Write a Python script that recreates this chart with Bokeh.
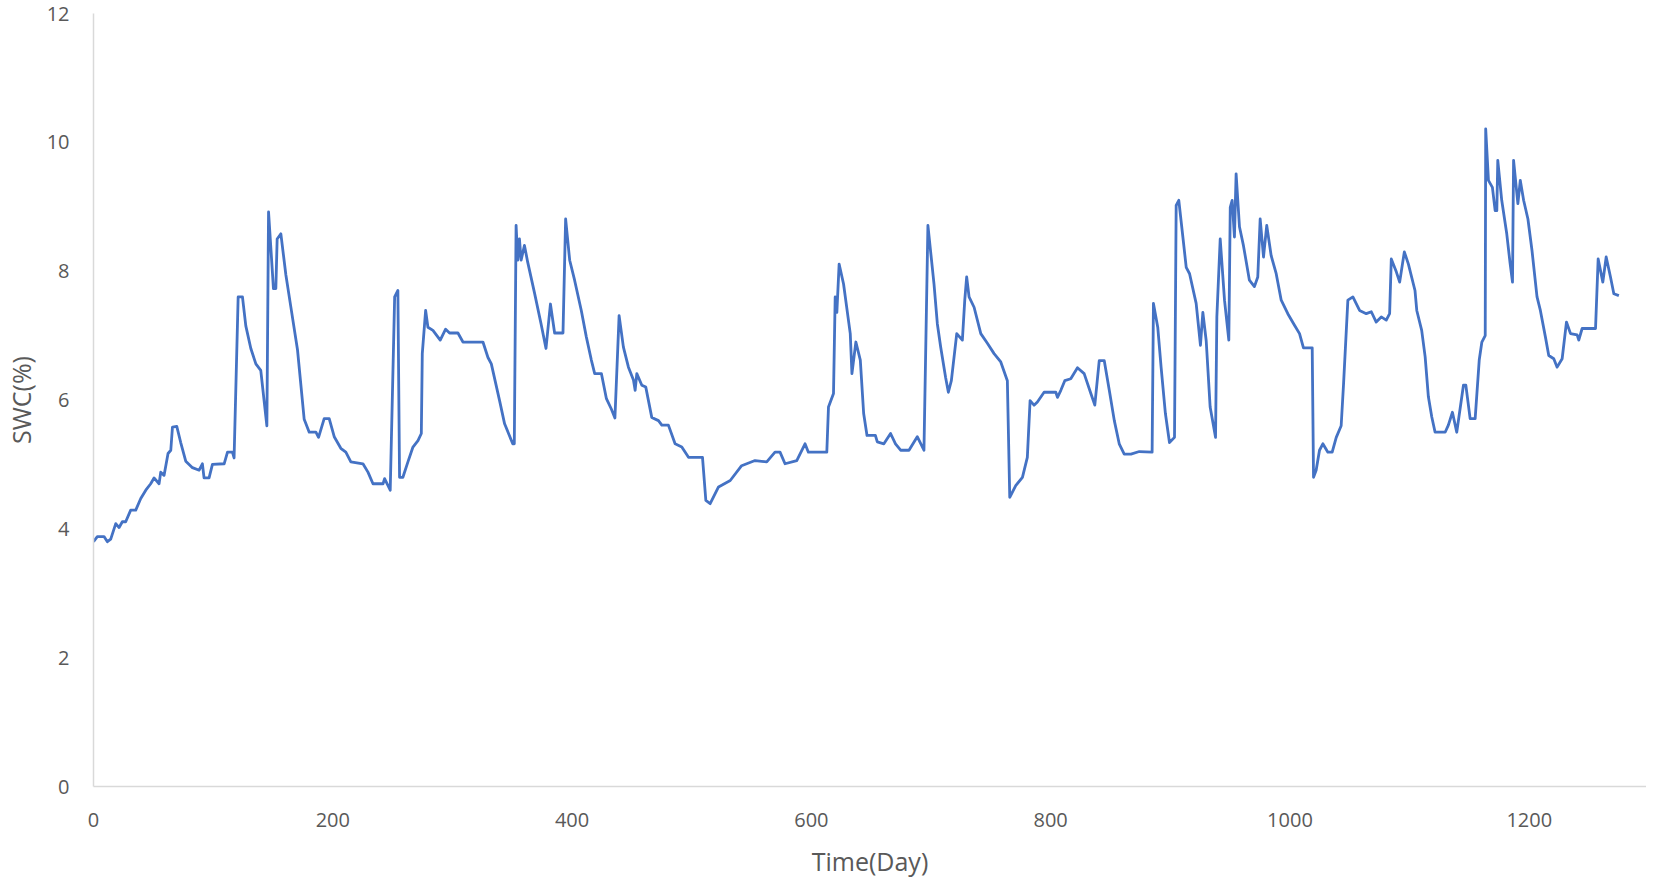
from bokeh.plotting import figure
from bokeh.models import Range1d, FixedTicker
from bokeh.embed import file_html
from bokeh.resources import INLINE

# Soil water content (day, SWC %)
days = [0, 3.2, 8.8, 11.6, 14.4, 18.6, 21.4, 24.1, 26.9, 31.1, 35.3, 39.5, 43.7, 47.8, 50.6, 54.8, 56.2, 59,
        62.3, 64.6, 66, 69.6, 72.9, 77.1, 82.7, 88.3, 91, 92.4, 96.6, 99.4, 109.2, 112, 116.1, 117.5,
        120.9, 124.5, 127.3, 131.5, 135.7, 139.8, 144.9, 146.3, 150.4, 152.4, 153.5, 156.6, 160.8,
        164.9, 170.5, 176.1, 180.3, 185.9, 188.1, 192.8, 197, 201.2, 206.7, 210.9, 215.1, 225.2,
        229.4, 233.6, 242, 243.3, 248, 251.7, 254.4, 255.8, 258.6, 262.8, 267, 271.2, 274, 274.8,
        277.6, 279.5, 283.7, 289.8, 294.3, 297.6, 304.6, 308.8, 325.5, 329.7, 332.5, 339.4, 343.6,
        350.4, 351.7, 353.2, 354.6, 356, 357.4, 360.2, 362.9, 368.5, 374.1, 378.2, 381.9, 385.4,
        392.4, 394.6, 398, 402.1, 407.7, 411.9, 416.1, 418.9, 424.5, 428.7, 432.8, 435.8, 439.3,
        442.9, 447.1, 451.3, 452.7, 454.1, 458.3, 461.6, 466.6, 472.2, 475, 480.5, 486.1, 491.7,
        497.3, 509, 511.8, 515.4, 522.4, 532.2, 541.7, 552.9, 562.7, 569.6, 573.8, 578, 587.8,
        594.7, 597.5, 612.9, 614.3, 618.5, 619.9, 621.3, 623.2, 626.9, 632.5, 633.9, 637.2, 640.9,
        643.7, 646.5, 653.5, 655.1, 660.6, 666.2, 670.3, 674.6, 681.6, 688.5, 694.1, 697.4, 702.5,
        705.3, 708.1, 712.2, 714.5, 717, 721.5, 726.2, 728.2, 729.8, 731.8, 736, 741.6, 747.1,
        752.7, 758.3, 763.8, 765.8, 770.8, 776.4, 780.5, 782.8, 786.1, 788.9, 794.5, 804.3, 805.7,
        808.5, 811.8, 816.8, 822.4, 828, 833.6, 836.9, 840.6, 844.8, 849, 853.2, 857.3, 861.5,
        867.1, 874.1, 884.8, 885.9, 889.5, 892.3, 895.9, 899.3, 903.5, 904.9, 907.1, 910.5, 913.3,
        916.1, 921.6, 925.2, 927.2, 930, 933.3, 937.8, 938.9, 941.7, 945.3, 948.9, 950.1, 951.7,
        953.6, 955, 957.8, 961.1, 966.1, 970.3, 973.1, 975.1, 977.9, 980.6, 984.3, 988.5, 992.7,
        998.2, 1003.8, 1008, 1011.3, 1018.6, 1019.7, 1021.9, 1024.7, 1027.5, 1031.7, 1035.3,
        1038.7, 1042.8, 1044.8, 1048.4, 1052.6, 1058.2, 1063.8, 1068, 1072.1, 1076.3, 1080.5,
        1083.3, 1084.7, 1088.9, 1091.7, 1095.6, 1099, 1104.5, 1106, 1110.1, 1113, 1115.7, 1118.5,
        1121.3, 1129.7, 1132.4, 1135.8, 1139.4, 1145, 1147, 1150.6, 1154.8, 1158.2, 1160.4, 1163.2,
        1163.6, 1165.9, 1169.2, 1171.5, 1172.9, 1173.7, 1177, 1181.2, 1184, 1186, 1186.9, 1190.5,
        1192.5, 1195.3, 1198.9, 1202.3, 1206.5, 1209.3, 1213.5, 1216.3, 1220.5, 1223.3, 1227.5,
        1231.1, 1234.5, 1240, 1241.4, 1244.2, 1255.4, 1257.6, 1261.5, 1264.3, 1267.9, 1270.7, 1274.9]

swc = [3.80, 3.88, 3.88, 3.80, 3.84, 4.08, 4.02, 4.11, 4.11, 4.29, 4.29, 4.47, 4.60, 4.70, 4.79, 4.70, 4.88, 4.83,
       5.17, 5.22, 5.58, 5.59, 5.34, 5.05, 4.95, 4.91, 5.01, 4.79, 4.79, 5.0, 5.01, 5.19, 5.19, 5.10,
       7.60, 7.60, 7.15, 6.80, 6.56, 6.46, 5.60, 8.92, 7.73, 7.73, 8.50, 8.58, 7.94,
       7.45, 6.78, 5.70, 5.50, 5.50, 5.42, 5.71, 5.71, 5.43, 5.25, 5.19, 5.04, 5.01,
       4.88, 4.70, 4.70, 4.78, 4.60, 7.60, 7.70, 4.80, 4.80, 5.04, 5.27, 5.37, 5.48, 6.72,
       7.39, 7.13, 7.08, 6.93, 7.10, 7.04, 7.04, 6.90, 6.90, 6.66, 6.56, 5.99, 5.63,
       5.32, 5.32, 8.71, 8.17, 8.50, 8.17, 8.40, 8.14, 7.67, 7.18, 6.80, 7.49, 7.04,
       7.04, 8.81, 8.17, 7.86, 7.39, 6.98, 6.62, 6.41, 6.41, 6.02, 5.86, 5.72, 7.31,
       6.82, 6.51, 6.31, 6.15, 6.41, 6.23, 6.20, 5.73, 5.68, 5.61, 5.61, 5.32, 5.27,
       5.11, 5.11, 4.44, 4.39, 4.65, 4.75, 4.98, 5.06, 5.04, 5.19, 5.19, 5.01, 5.06,
       5.32, 5.19, 5.19, 5.89, 6.10, 7.60, 7.36, 8.11, 7.80, 7.03, 6.41, 6.90, 6.62,
       5.79, 5.45, 5.45, 5.35, 5.32, 5.48, 5.32, 5.22, 5.22, 5.43, 5.22, 8.71, 7.80,
       7.18, 6.82, 6.35, 6.12, 6.30, 7.03, 6.93, 7.55, 7.91, 7.60, 7.44, 7.03, 6.88,
       6.72, 6.59, 6.30, 4.49, 4.67, 4.80, 5.11, 5.99, 5.92, 5.97, 6.12, 6.12, 6.04,
       6.15, 6.30, 6.33, 6.50, 6.41, 6.10, 5.92, 6.61, 6.61, 6.15, 5.68, 5.32, 5.16,
       5.16, 5.20, 5.19, 7.50, 7.13, 6.51, 5.79, 5.34, 5.42, 9.02, 9.10, 8.53, 8.06,
       7.96, 7.50, 6.85, 7.36, 6.92, 5.89, 5.42, 7.29, 8.50, 7.55, 6.93, 8.99, 9.10,
       8.53, 9.51, 8.69, 8.40, 7.86, 7.76, 7.91, 8.81, 8.22, 8.71, 8.24, 7.96, 7.55,
       7.34, 7.16, 7.03, 6.81, 6.81, 4.80, 4.91, 5.22, 5.32, 5.19, 5.19,
       5.42, 5.60, 6.25, 7.55, 7.60, 7.39, 7.34, 7.37, 7.21, 7.29, 7.24,
       7.34, 8.19, 7.99, 7.83, 8.30, 8.11, 7.70, 7.39, 7.08, 6.67, 6.05, 5.74,
       5.50, 5.50, 5.61, 5.81, 5.50, 6.23, 6.23, 5.71, 5.71, 6.62, 6.90, 7.00,
       10.21, 9.41, 9.30, 8.94, 8.94, 9.72, 9.10, 8.58, 8.12, 7.83, 9.72, 9.05,
       9.41, 9.10, 8.81, 8.32, 7.60, 7.39, 6.98, 6.69, 6.64, 6.51, 6.64,
       7.21, 7.03, 7.01, 6.93, 7.11, 7.11, 8.19, 7.83, 8.22, 7.91, 7.65, 7.62]

x_ticks = [0, 200, 400, 600, 800, 1000, 1200]
y_ticks = [0, 2, 4, 6, 8, 10, 12]

GRAY = "#595959"
FONT = "Open Sans"

p = figure(width=1646, height=880, output_backend="svg", toolbar_location=None,
           x_range=Range1d(0, 1298), y_range=Range1d(0, 12),
           min_border_left=93, min_border_right=0, min_border_top=13, min_border_bottom=94)

p.line(days, swc, line_color="#4472C4", line_width=2.8, line_join="round")

p.grid.visible = False
p.outline_line_color = None

for ax in (p.xaxis[0], p.yaxis[0]):
    ax.axis_line_color = "#D9D9D9"
    ax.axis_line_width = 1.5
    ax.major_tick_line_color = None
    ax.minor_tick_line_color = None
    ax.major_tick_out = 0
    ax.major_tick_in = 0
    ax.major_label_text_color = GRAY
    ax.major_label_text_font = FONT
    ax.major_label_text_font_size = "20px"
    ax.major_label_text_line_height = 0.75
    ax.axis_label_text_color = GRAY
    ax.axis_label_text_font = FONT
    ax.axis_label_text_font_size = "25px"
    ax.axis_label_text_font_style = "normal"
    ax.axis_label_text_line_height = 0.75

p.xaxis[0].ticker = FixedTicker(ticks=x_ticks)
p.yaxis[0].ticker = FixedTicker(ticks=y_ticks)
p.xaxis[0].axis_label = "Time(Day)"
p.yaxis[0].axis_label = "SWC(%)"
p.xaxis[0].major_label_standoff = 26
p.xaxis[0].axis_label_standoff = 14
p.yaxis[0].major_label_standoff = 24
p.yaxis[0].axis_label_standoff = 6

open("out.html", "w").write(file_html(p, INLINE))
